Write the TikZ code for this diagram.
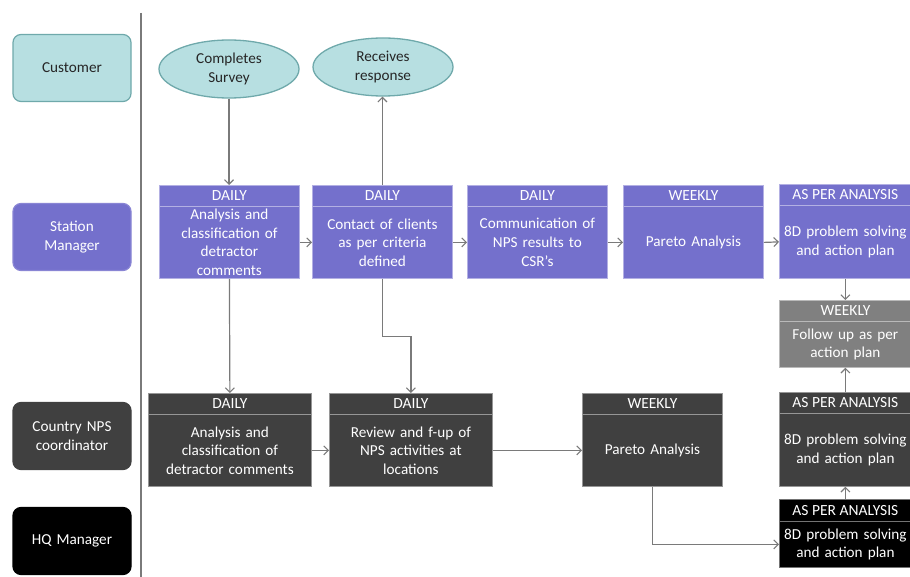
\documentclass[tikz,border=0pt]{standalone}
\usepackage{fontspec}
\setmainfont{Carlito}
\usetikzlibrary{arrows.meta,shapes.geometric}
\definecolor{cyanf}{HTML}{B7DFE1}
\definecolor{cyand}{HTML}{6FA9AB}
\definecolor{purp}{HTML}{7470CC}
\definecolor{darkg}{HTML}{404040}
\definecolor{midg}{HTML}{808080}
\definecolor{blk}{HTML}{000000}
\definecolor{linegray}{HTML}{7A7A7A}
\newcommand{\flowbox}[9]{%
  \node[hdr, fill=#7, draw=#7!55!white, minimum width=#4pt, minimum height=#5pt] (#1h) at (#2,#3) {#8};
  \node[bdy, fill=#7, draw=#7!55!white, minimum width=#4pt, minimum height=#6pt, text width=#4pt] (#1) at (#2,#3+#5) {#9};
}
\begin{document}
\begin{tikzpicture}[x=1pt,y=-1pt,
  lane/.style={rounded corners=8pt, minimum width=118pt, minimum height=67pt, text width=112pt, align=center, inner sep=0pt, font=\fontsize{15.2}{18.5}\selectfont, line width=1.2pt},
  hdr/.style={anchor=north west, inner sep=0pt, text=white, font=\fontsize{15.5}{17}\selectfont, line width=0.8pt},
  bdy/.style={anchor=north west, inner sep=0pt, align=center, text=white, font=\fontsize{15.2}{18.6}\selectfont, line width=0.8pt},
  oval/.style={ellipse, fill=cyanf, draw=cyand, line width=1.3pt, minimum width=140pt, minimum height=58pt, inner sep=0pt, align=center, font=\fontsize{15.2}{19}\selectfont, text=black!85},
  arr/.style={draw=linegray, line width=1.2pt, -{Straight Barb[length=4.5pt,width=9pt,line width=1.1pt]}}
]
\useasboundingbox (0,0) rectangle (910,577);
\fill[white] (0,0) rectangle (910,577);

% separator
\draw[linegray, line width=1.2pt] (141,13) -- (141,577);

% lane labels
\node[lane, fill=cyanf, draw=cyand, text=black!85] (lc) at (72,68) {Customer};
\node[lane, fill=purp, draw=purp!85!white, text=white] (ls) at (72,237) {Station\\Manager};
\node[lane, fill=darkg, draw=darkg, text=white] (ln) at (72,436) {Country NPS\\coordinator};
\node[lane, fill=blk, draw=blk, text=white] (lh) at (72,541) {HQ Manager};

% customer ovals
\node[oval] (es) at (229,69) {Completes\\Survey};
\node[oval] (er) at (383,67) {Receives\\response};

% station manager row
\flowbox{s1}{159}{185}{140}{21}{72}{purp}{DAILY}{Analysis and\\classification of\\detractor\\comments}
\flowbox{s2}{312}{185}{140}{21}{72}{purp}{DAILY}{Contact of clients\\as per criteria\\defined}
\flowbox{s3}{467}{185}{140}{21}{72}{purp}{DAILY}{Communication of\\NPS results to\\CSR’s}
\flowbox{s4}{623}{185}{140}{21}{72}{purp}{WEEKLY}{Pareto Analysis}
\flowbox{s5}{779}{184}{132}{21}{73}{purp}{AS PER ANALYSIS}{8D problem solving\\and action plan}

% follow up
\flowbox{g}{779}{300}{132}{21}{46}{midg}{WEEKLY}{Follow up as per\\action plan}

% country NPS row
\flowbox{c1}{148}{393}{163}{21}{72}{darkg}{DAILY}{Analysis and\\classification of\\detractor comments}
\flowbox{c2}{329}{393}{163}{21}{72}{darkg}{DAILY}{Review and f-up of\\NPS activities at\\locations}
\flowbox{c3}{582}{393}{140}{21}{72}{darkg}{WEEKLY}{Pareto Analysis}
\flowbox{c4}{779}{392}{132}{21}{73}{darkg}{AS PER ANALYSIS}{8D problem solving\\and action plan}

% HQ
\flowbox{h}{779}{499}{132}{22}{46}{blk}{AS PER ANALYSIS}{8D problem solving\\and action plan}

% connectors
\draw[arr] (es.south) -- (es.south |- s1h.north);
\draw[arr] (s2h.north) -- (s2h.north |- er.south);
\draw[arr] (s1.east) -- (s2.west);
\draw[arr] (s2.east) -- (s3.west);
\draw[arr] (s3.east) -- (s4.west);
\draw[arr] (s4.east) -- (s5.west);
\draw[arr] (s5.south) -- (gh.north);
\draw[arr] (c4h.north) -- (g.south);
\draw[arr] (hh.north) -- (c4.south);
\draw[arr] (s1.south) -- (c1h.north);
\draw[arr] (s2.south) -- ++(0,58) -| (c2h.north);
\draw[arr] (c1.east) -- (c2.west);
\draw[arr] (c2.east) -- (c3.west);
\draw[arr] (c3.south) |- (h.west);
\end{tikzpicture}
\end{document}
